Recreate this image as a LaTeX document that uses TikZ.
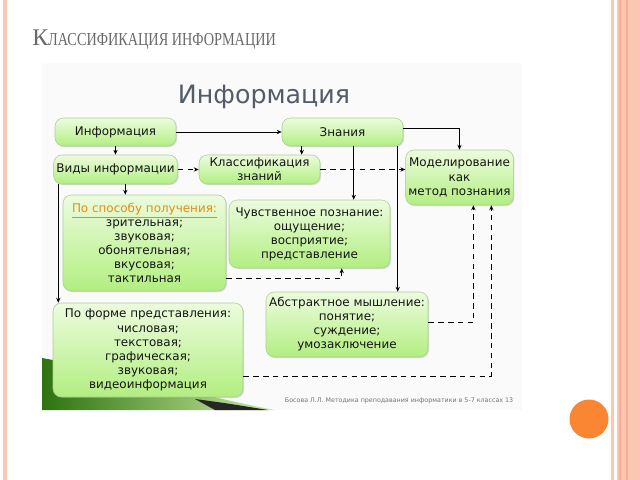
\documentclass[tikz,border=0pt]{standalone}
\usepackage{graphicx}
\usepackage{fontspec}
\setmainfont{DejaVu Sans}
\newfontfamily\slidefont{Liberation Serif}
\usetikzlibrary{arrows.meta, positioning, calc, shadows}
\definecolor{boxtop}{RGB}{236,252,222}
\definecolor{boxbot}{RGB}{178,238,128}
\definecolor{boxline}{RGB}{170,205,150}
\definecolor{peach}{RGB}{251,198,178}
\definecolor{peachdark}{RGB}{246,174,148}
\definecolor{dotorange}{RGB}{250,134,52}
\definecolor{headgray}{RGB}{84,92,104}
\definecolor{titlegray}{RGB}{105,105,105}
\definecolor{wayorange}{RGB}{228,140,20}
\definecolor{swgreen}{RGB}{45,115,15}
\definecolor{swlight}{RGB}{150,215,70}
\newcommand{\px}{0.025cm}
\tikzset{
  infobox/.style={draw=boxline, top color=boxtop, bottom color=boxbot, rounded corners=6pt,
    align=center, inner sep=2pt, font=\fontsize{8.5}{10}\selectfont, text=black!92,
    drop shadow={shadow xshift=0.8pt, shadow yshift=-0.8pt, opacity=0.25}},
  link/.style={line width=0.7pt, -{Stealth[length=3.5pt, width=3pt]}},
  dlink/.style={link, dash pattern=on 4pt off 3pt},
}

\begin{document}
\begin{tikzpicture}[x=\px, y=-\px]
  \useasboundingbox (0,0) rectangle (640,480);
  % slide frame
  \fill[white] (0,0) rectangle (640,480);
  \fill[peach] (3,0) rectangle (7,480);
  \fill[peach] (611,0) rectangle (613.5,480);
  \fill[peach] (617,0) rectangle (640,480);
  \fill[peachdark] (619,0) rectangle (621,480);
  \fill[peachdark] (626,0) rectangle (628,480);
  \fill[dotorange] (589,419) circle (19.5);

  \node[font=\slidefont, text=titlegray, anchor=base west, inner sep=0pt] (slidetitle) at (32,46)
    {\fontsize{17}{17}\selectfont К\scalebox{0.78}[1]{\fontsize{13}{13}\selectfont ЛАССИФИКАЦИЯ ИНФОРМАЦИИ}};

  % picture panel
  \fill[black!2] (42,63) rectangle (522,410);
  \shade[left color=swgreen, right color=swlight!50!white] (42,358) .. controls (120,372) and (200,396) .. (275,410) -- (42,410) -- cycle;
  \fill[black!85] (195,399) .. controls (225,403) .. (268,410) -- (215,410) -- cycle;

  \node[font=\fontsize{18}{18}\selectfont, text=headgray] (head) at (264,97) {Информация};

  % boxes
  \node[infobox, minimum width=121*\px, minimum height=28*\px] (info) at (115.5,132) {Информация};
  \node[infobox, minimum width=121*\px, minimum height=28*\px] (znan) at (342.5,132) {Знания};
  \node[infobox, minimum width=121*\px, minimum height=29*\px] (vidy) at (115.5,169.5) {Виды информации};
  \node[infobox, minimum width=121*\px, minimum height=29*\px] (klass) at (259.5,169.5) {Классификация\\знаний};
  \node[infobox, minimum width=105*\px, minimum height=55*\px] (model) at (459.5,177.5) {Моделирование\\как\\метод познания};
  \node[infobox, minimum width=163*\px, minimum height=96*\px] (sposob) at (144.5,243)
    {{\color{wayorange}\underline{По способу получения:}}\\зрительная;\\звуковая;\\обонятельная;\\вкусовая;\\тактильная};
  \node[infobox, minimum width=161*\px, minimum height=68*\px] (chuv) at (309.5,234)
    {Чувственное познание:\\ощущение;\\восприятие;\\представление};
  \node[infobox, minimum width=162*\px, minimum height=65*\px] (abstr) at (347,324.5)
    {Абстрактное мышление:\\понятие;\\суждение;\\умозаключение};
  \node[infobox, minimum width=190*\px, minimum height=94*\px] (forma) at (148,350)
    {По форме представления:\\числовая;\\текстовая;\\графическая;\\звуковая;\\видеоинформация};

  \node[font=\fontsize{4.5}{5}\selectfont, text=black!55, anchor=west] (source) at (280,401)
    {Босова Л.Л. Методика преподавания информатики в 5-7 классах 13};

  % connectors
  \coordinate (zk) at ($(znan.south west)+(20,0)$);
  \coordinate (zc) at ($(znan.south west)+(72,0)$);
  \coordinate (za) at ($(znan.south west)+(116,0)$);
  \coordinate (zm) at ($(znan.east)+(0,-4)$);
  \coordinate (vf) at ($(vidy.south west)+(5,0)$);
  \coordinate (vs) at ($(vidy.south west)+(72,0)$);
  \coordinate (sc) at ($(sposob.south east)+(0,-13)$);
  \coordinate (cs) at ($(chuv.south west)+(113,0)$);
  \coordinate (am) at ($(abstr.east)+(0,-2)$);
  \coordinate (ma) at ($(model.south west)+(68,0)$);
  \coordinate (fm) at ($(forma.east)+(0,26)$);
  \coordinate (mf) at ($(model.south west)+(86,0)$);

  \draw[link] (info) -- (znan);
  \draw[link] (info) -- (vidy);
  \draw[dlink] (vidy) -- (klass);
  \draw[link] (zk) -- (zk |- klass.north);
  \draw[link] (zc) -- (zc |- chuv.north);
  \draw[link] (za) -- (za |- abstr.north);
  \draw[link] (zm) -| (model.north);
  \draw[dlink] (klass.east) -- (klass.east -| model.west);
  \draw[link] (vf) -- (vf |- forma.north);
  \draw[link] (vs) -- (vs |- sposob.north);
  \draw[dlink] (sc) -| (cs);
  \draw[dlink] (am) -| (ma);
  \draw[dlink] (fm) -| (mf);
\end{tikzpicture}
\end{document}
